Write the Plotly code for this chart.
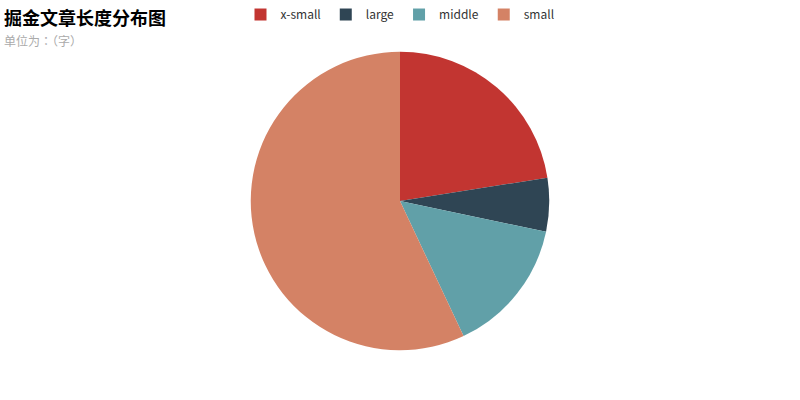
import plotly.graph_objects as go

categories = ["x-small", "large", "middle", "small"]
values = [22.5, 5.8, 14.7, 57.0]
colors = ["#c23531", "#2f4554", "#61a0a8", "#d48265"]

title_text = "掘金文章长度分布图"
subtitle_text = "单位为：（字）"

W, H = 800, 400
cx, cy, r = 400, 200, 150

fig = go.Figure(go.Pie(
    labels=categories,
    values=values,
    sort=False,
    direction="clockwise",
    rotation=0,
    textinfo="none",
    hoverinfo="label+value+percent",
    marker=dict(colors=colors, line=dict(width=0)),
    domain=dict(x=[(cx - r) / W, (cx + r) / W], y=[(H - cy - r) / H, (H - cy + r) / H]),
))

fig.update_layout(
    width=W, height=H,
    margin=dict(l=0, r=0, t=0, b=0),
    paper_bgcolor="white",
    plot_bgcolor="white",
    font=dict(family="Noto Sans CJK SC, Noto Sans, sans-serif", color="#333"),
    legend=dict(
        orientation="h",
        x=0.5, xanchor="center",
        y=1.005, yanchor="top",
        font=dict(size=12, color="#333"),
        itemsizing="constant",
        traceorder="normal",
    ),
    annotations=[
        dict(text="<b>" + title_text + "</b>", x=2 / W, y=1 - 15 / H, xref="paper", yref="paper",
             xanchor="left", yanchor="middle", showarrow=False,
             font=dict(size=18, color="#000", family="Noto Sans CJK SC")),
        dict(text=subtitle_text, x=2 / W, y=1 - 39 / H, xref="paper", yref="paper",
             xanchor="left", yanchor="middle", showarrow=False,
             font=dict(size=12, color="#aaa", family="Noto Sans CJK TC")),
    ],
)

fig.write_html("out.html", config={"displayModeBar": False},
               post_script="document.body.style.margin='0';")
